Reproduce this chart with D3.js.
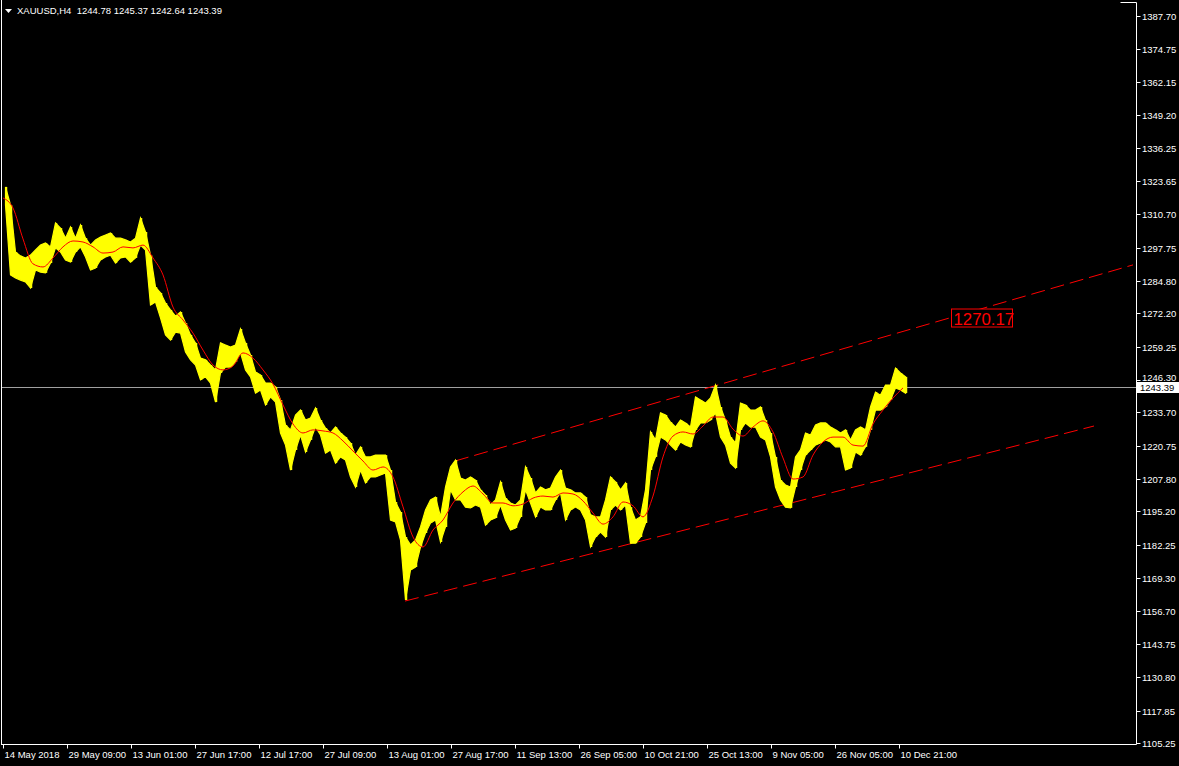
<!DOCTYPE html>
<html><head><meta charset="utf-8">
<script src="https://cdn.jsdelivr.net/npm/d3@7"></script>
<style>html,body{margin:0;padding:0;background:#000;}svg{display:block;}</style>
</head><body>
<svg id="c" width="1179" height="766"></svg>
<script>
// ---- data ----
const symbolTitle = "XAUUSD,H4  1244.78 1245.37 1242.64 1243.39";
const lastPrice = 1243.39;
const channelLabel = "1270.17";
const barsPerSample = 5;   // each sample summarises 5 H4 bars
const highs = [1321.3,1314.3,1296.0,1294.5,1293.7,1294.8,1296.8,1298.7,1299.5,1298.0,
1307.3,1305.3,1301.4,1305.7,1301.4,1306.5,1301.4,1298.7,1300.7,1301.8,
1302.6,1303.4,1301.4,1301.4,1300.7,1299.9,1301.4,1309.2,1303.8,1294.8,
1282.4,1280.1,1276.2,1273.5,1271.1,1272.7,1268.4,1263.8,1260.7,1254.8,
1254.1,1252.1,1250.2,1260.7,1259.9,1259.1,1259.9,1266.1,1260.7,1256.0,
1249.4,1248.2,1245.1,1245.1,1243.6,1238.5,1228.8,1226.9,1232.7,1234.6,
1230.7,1231.5,1235.4,1230.7,1227.6,1225.7,1228.0,1225.7,1224.1,1221.8,
1217.1,1220.3,1216.4,1216.4,1217.1,1217.1,1217.1,1211.3,1198.9,1195.0,
1185.3,1182.2,1184.1,1189.2,1195.8,1199.7,1200.8,1193.1,1204.7,1212.5,
1215.2,1208.2,1207.4,1208.6,1207.4,1203.6,1201.6,1197.7,1199.7,1206.7,
1200.4,1198.5,1197.7,1199.7,1212.5,1208.2,1202.4,1204.7,1203.6,1204.3,
1208.6,1211.3,1204.3,1203.6,1202.4,1202.4,1200.8,1193.9,1193.1,1193.1,
1199.7,1208.6,1206.7,1203.6,1206.3,1196.9,1191.9,1193.1,1203.6,1226.1,
1223.0,1233.5,1232.7,1229.9,1228.0,1230.7,1229.6,1228.0,1239.7,1238.5,
1237.3,1239.3,1244.3,1235.8,1230.7,1224.1,1221.8,1237.3,1236.6,1234.6,
1234.6,1235.8,1230.7,1225.7,1216.4,1207.4,1205.5,1204.7,1216.4,1219.1,
1225.7,1224.9,1228.8,1229.6,1229.6,1228.0,1226.9,1225.7,1226.9,1223.0,
1226.9,1228.0,1226.9,1235.8,1241.6,1240.4,1244.3,1244.3,1250.9,1249.0,
1247.5];
const lows = [1314.3,1287.1,1285.9,1285.1,1284.4,1282.0,1289.0,1288.2,1287.9,1291.7,
1297.6,1296.0,1292.9,1292.1,1296.0,1298.0,1294.1,1289.0,1289.8,1292.9,
1294.1,1294.8,1291.7,1293.7,1294.1,1292.1,1293.7,1298.7,1296.8,1275.4,
1276.6,1270.4,1263.8,1261.8,1264.9,1264.5,1257.2,1254.1,1252.1,1246.3,
1247.5,1245.1,1237.7,1249.0,1251.3,1251.3,1253.3,1256.8,1250.2,1247.5,
1241.2,1242.4,1236.6,1239.7,1237.7,1225.7,1221.0,1211.3,1219.1,1224.9,
1218.3,1223.0,1228.0,1224.9,1217.9,1219.1,1214.0,1216.4,1215.2,1208.6,
1204.7,1211.3,1206.3,1208.6,1208.6,1209.4,1210.2,1191.9,1191.1,1184.1,
1160.8,1172.5,1173.6,1181.4,1186.8,1190.7,1191.9,1183.3,1189.2,1203.6,
1199.7,1199.7,1196.9,1196.6,1197.7,1196.9,1189.9,1191.9,1192.7,1197.7,
1191.9,1188.0,1188.8,1193.1,1203.6,1198.5,1193.1,1196.9,1195.8,1195.8,
1199.7,1202.4,1191.9,1195.8,1196.9,1195.8,1191.9,1181.4,1185.3,1187.2,
1185.3,1195.8,1197.7,1195.8,1197.7,1182.9,1182.9,1185.3,1190.7,1211.3,
1216.4,1224.1,1223.0,1221.0,1219.1,1222.2,1221.0,1220.3,1226.9,1229.6,
1229.6,1230.7,1233.5,1224.1,1221.0,1214.0,1212.1,1226.9,1229.6,1228.0,
1228.0,1224.1,1223.0,1216.4,1204.7,1199.7,1196.9,1196.6,1204.7,1211.3,
1217.1,1219.1,1221.0,1221.8,1223.0,1222.2,1220.3,1220.3,1211.3,1212.1,
1218.3,1217.1,1220.3,1226.9,1234.6,1234.6,1235.8,1238.5,1243.2,1242.4,
1241.2];
const maStep = 10;  // moving average read every 10 bars
const maValues = [1317.0,1313.1,1301.1,1291.4,1290.2,1293.7,1298.0,1300.3,1299.9,1298.0,
1295.6,1296.0,1298.0,1297.6,1298.7,1293.7,1287.1,1274.6,1269.6,1264.5,
1257.9,1252.1,1250.2,1251.7,1256.8,1254.8,1250.2,1244.7,1236.6,1229.2,
1225.7,1226.9,1226.5,1225.7,1222.6,1218.7,1214.8,1211.3,1212.5,1208.6,
1197.0,1185.3,1181.4,1188.0,1191.9,1198.5,1202.8,1205.1,1202.0,1198.5,
1198.5,1197.4,1198.1,1200.4,1201.2,1200.8,1202.4,1202.0,1199.3,1194.6,
1190.3,1193.1,1198.9,1197.4,1193.1,1201.2,1216.4,1224.5,1226.1,1225.3,
1228.4,1231.9,1231.9,1227.2,1224.5,1228.0,1230.4,1226.1,1216.0,1207.8,
1208.6,1217.1,1222.2,1224.1,1224.1,1221.0,1220.6,1229.2,1234.6,1239.3,
1243.2];
// trend lines: [bar, price] end points
const upperLine = [[452, 1214.8], [1130, 1291.0]];
const lowerLine = [[402, 1160.4], [1091, 1228.4]];
const labelBar = 950;
const priceTicks = [1387.70,1374.75,1362.15,1349.20,1336.25,1323.65,1310.70,1297.75,1284.80,1272.20,
1259.25,1246.30,1233.70,1220.75,1207.80,1195.20,1182.25,1169.30,1156.70,1143.75,1130.80,1117.85,1105.25];
const timeTickBars = [0,64,128,192,256,320,384,448,512,576,640,704,768,832,896];
const timeTickLabels = ["14 May 2018","29 May 09:00","13 Jun 01:00","27 Jun 17:00","12 Jul 17:00",
"27 Jul 09:00","13 Aug 01:00","27 Aug 17:00","11 Sep 13:00","26 Sep 05:00","10 Oct 21:00",
"25 Oct 13:00","9 Nov 05:00","26 Nov 05:00","10 Dec 21:00"];

// ---- drawing ----
const W = 1179, H = 766;
const plotRight = 1136.5, plotBottom = 744.5;
const svg = d3.select("#c");
svg.append("rect").attr("width", W).attr("height", H).attr("fill", "#000");

const x = d3.scaleLinear().domain([0, 1]).range([3, 4]);
const y = d3.scaleLinear().domain([1105.25, 1387.70]).range([743, 16]);
const font = "Liberation Sans, Arial, sans-serif";

const plot = svg.append("g");
svg.append("clipPath").attr("id", "clipPlot").append("rect")
  .attr("x", 2).attr("y", 0).attr("width", plotRight - 2).attr("height", plotBottom);
plot.attr("clip-path", "url(#clipPlot)");

// last price line
const lpLineY = Math.round(y(lastPrice)) + 0.5;
plot.append("line").attr("x1", 0).attr("x2", plotRight).attr("y1", lpLineY)
  .attr("y2", lpLineY).attr("stroke", "#a0a0a0").attr("stroke-width", 1);

// channel lines
[upperLine, lowerLine].forEach(l => {
  plot.append("line")
    .attr("x1", x(l[0][0])).attr("y1", y(l[0][1]))
    .attr("x2", x(l[1][0])).attr("y2", y(l[1][1]))
    .attr("stroke", "#ff0000").attr("stroke-width", 1).attr("stroke-dasharray", "14,6");
});

// price bars: high-low ribbon through the sample centres
const samples = highs.map((h, i) => ({ i, h, l: lows[i] }));
const band = d3.area()
  .x(d => x(d.i * barsPerSample + barsPerSample / 2))
  .y0(d => y(d.l)).y1(d => y(d.h))
  .curve(d3.curveLinear);
plot.append("path").attr("d", band(samples)).attr("fill", "#ffff00")
  .attr("stroke", "#ffff00").attr("stroke-width", 1.2).attr("stroke-linejoin", "miter");
// thin vertical bar per sample
plot.append("g").selectAll("line").data(samples).join("line")
  .attr("x1", d => Math.round(x(d.i * barsPerSample + barsPerSample / 2)) + 0.5)
  .attr("x2", d => Math.round(x(d.i * barsPerSample + barsPerSample / 2)) + 0.5)
  .attr("y1", d => y(d.h)).attr("y2", d => y(d.l))
  .attr("stroke", "#ffff00").attr("stroke-width", 1.5);

// moving average
const maLine = d3.line().x((d, i) => x(i * maStep)).y(d => y(d)).curve(d3.curveMonotoneX);
plot.append("path").attr("d", maLine(maValues)).attr("fill", "none")
  .attr("stroke", "#ff0000").attr("stroke-width", 1);

// channel price label
const ly = y(+channelLabel);
const lbl = svg.append("g");
lbl.append("rect").attr("x", x(labelBar) - 1.5).attr("y", ly - 9.5).attr("width", 61).attr("height", 18)
  .attr("fill", "#000").attr("stroke", "#ff0000").attr("stroke-width", 1);
lbl.append("text").attr("x", x(labelBar) + 0.5).attr("y", ly + 6.5).attr("fill", "#ff0000")
  .attr("font-family", font).attr("font-size", "16.8px").text(channelLabel);

// frame
svg.append("line").attr("x1", 1.5).attr("x2", 1.5).attr("y1", 0).attr("y2", plotBottom).attr("stroke", "#fff");
svg.append("line").attr("x1", 1).attr("x2", plotRight).attr("y1", plotBottom).attr("y2", plotBottom).attr("stroke", "#fff");
svg.append("line").attr("x1", plotRight).attr("x2", plotRight).attr("y1", 2.5).attr("y2", plotBottom).attr("stroke", "#fff");
svg.append("line").attr("x1", plotRight - 16).attr("x2", plotRight).attr("y1", 2.5).attr("y2", 2.5).attr("stroke", "#fff");

// right axis
const ra = svg.append("g");
const lpy = Math.round(y(lastPrice));
priceTicks.forEach(v => {
  const yy = Math.round(y(v)) + 0.5;
  ra.append("line").attr("x1", plotRight).attr("x2", plotRight + 4).attr("y1", yy).attr("y2", yy).attr("stroke", "#fff");
  // the tick label sitting under the last-price box is lifted just clear of it
  const ty = Math.abs(yy - lpy) < 10 ? lpy - 6 : yy + 3.5;
  ra.append("text").attr("x", 1142).attr("y", ty).attr("fill", "#fff")
    .attr("font-family", font).attr("font-size", "9.5px").text(v.toFixed(2));
});
// last price box
ra.append("rect").attr("x", 1137).attr("y", lpy - 5).attr("width", 42).attr("height", 11).attr("fill", "#fff");
ra.append("text").attr("x", 1140).attr("y", lpy + 4).attr("fill", "#000")
  .attr("font-family", font).attr("font-size", "9.5px").text(lastPrice.toFixed(2));

// bottom axis
const ba = svg.append("g");
timeTickBars.forEach((b, i) => {
  const xx = Math.round(x(b)) + 0.5;
  ba.append("line").attr("x1", xx).attr("x2", xx).attr("y1", plotBottom).attr("y2", plotBottom + 4).attr("stroke", "#fff");
  ba.append("text").attr("x", xx + 1).attr("y", 758).attr("fill", "#fff")
    .attr("font-family", font).attr("font-size", "9.5px").text(timeTickLabels[i]);
});

// title
svg.append("path").attr("d", "M5,9 L12,9 L8.5,13 Z").attr("fill", "#fff");
svg.append("text").attr("x", 17).attr("y", 14).attr("fill", "#fff")
  .attr("font-family", font).attr("font-size", "9.5px")
  .style("white-space", "pre").text(symbolTitle);
</script>
</body></html>
